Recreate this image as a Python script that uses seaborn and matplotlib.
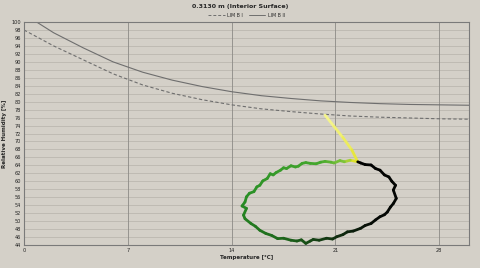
import numpy as np
import pandas as pd
import matplotlib
matplotlib.use("Agg")
import matplotlib.pyplot as plt
import seaborn as sns
from matplotlib.colors import LinearSegmentedColormap

# ---- data ----
iso_temp = [0, 2, 4, 6, 8, 10, 12, 14, 16, 18, 20, 22, 24, 26, 28, 30]
lim_b2 = [102.0, 97.3, 93.5, 90.0, 87.4, 85.4, 83.8, 82.5, 81.5, 80.8, 80.2, 79.8, 79.5, 79.3, 79.2, 79.1]
lim_b1 = [98.0, 94.0, 90.5, 87.0, 84.2, 82.1, 80.5, 79.2, 78.2, 77.5, 76.9, 76.4, 76.1, 75.9, 75.7, 75.6]
series_labels = ["LIM B I", "LIM B II"]

loop_temp = [20.3, 20.9, 21.5, 22.1, 22.5, 22.0, 21.6, 21.3, 20.9, 20.7, 20.3, 20.0, 19.7, 19.3,
             19.0, 18.75, 18.5, 18.3, 18.0, 17.7, 17.5, 17.3, 17.0, 16.8, 16.6, 16.4, 16.1, 15.9,
             15.7, 15.5, 15.2, 15.0, 14.9, 14.7, 15.0, 14.8, 14.9, 15.3, 15.6, 15.9, 16.3, 16.7,
             17.1, 17.5, 18.0, 18.4, 18.7, 19.0, 19.3, 19.5, 19.9, 20.4, 20.8, 21.1, 21.5, 21.8,
             22.2, 22.7, 23.0, 23.4, 23.7, 24.0, 24.3, 24.5, 24.7, 24.9, 25.1, 24.9, 25.05, 24.8,
             24.6, 24.3, 24.0, 23.7, 23.4, 23.0, 22.7, 22.5]
loop_rh = [76.6, 73.8, 71.0, 67.9, 64.9, 65.3, 64.9, 65.2, 64.6, 64.8, 65.0, 64.8, 64.4, 64.5,
           64.7, 64.5, 63.8, 63.6, 63.9, 63.2, 63.4, 62.8, 62.2, 61.6, 61.9, 60.7, 60.1, 59.0,
           58.6, 57.4, 57.0, 56.1, 54.8, 53.8, 53.2, 51.5, 50.6, 49.4, 48.7, 47.7, 46.9, 46.4,
           45.6, 45.7, 45.2, 45.0, 45.3, 44.4, 45.0, 45.4, 45.2, 45.7, 45.5, 46.1, 46.6, 47.3,
           47.5, 48.2, 48.9, 49.4, 50.3, 51.1, 51.6, 52.3, 53.5, 54.4, 55.7, 57.8, 59.0, 60.0,
           61.1, 61.6, 62.8, 63.2, 64.1, 64.2, 64.6, 64.9]

x_ticks = [0, 7, 14, 21, 28]
y_ticks = list(range(44, 101, 2))

# ---- style ----
bg = "#d4d0c8"
sns.set_theme(style="white")
plt.rcParams["font.family"] = ["DejaVu Sans"]

fig = plt.figure(figsize=(4.8, 2.68), dpi=100, facecolor=bg)
ax = fig.add_axes([0.05, 0.0858, 0.927, 0.832])
ax.set_facecolor(bg)

for y in y_ticks:
    ax.axhline(y, color="#bcb8b0", lw=0.6, zorder=0)
for x in x_ticks[1:]:
    ax.axvline(x, color="#8c8a86", lw=0.6, zorder=0)

iso = pd.DataFrame({
    "T": iso_temp * 2,
    "RH": lim_b1 + lim_b2,
    "curve": [series_labels[0]] * len(iso_temp) + [series_labels[1]] * len(iso_temp),
})
sns.lineplot(data=iso, x="T", y="RH", style="curve", style_order=series_labels,
             dashes={series_labels[0]: (3, 2), series_labels[1]: ""},
             color="#6e6e6e", lw=0.8, ax=ax, legend=True)

cmap = LinearSegmentedColormap.from_list(
    "loop", [(0.0, "#f4f48a"), (0.05, "#e2e22a"), (0.07, "#86c83c"), (0.14, "#46a82e"),
             (0.4, "#2a9026"), (0.55, "#1e6a1c"), (0.66, "#143c14"), (0.78, "#060a06"),
             (1.0, "#000000")])
n = len(loop_temp)
for i in range(n - 1):
    ax.plot(loop_temp[i:i + 2], loop_rh[i:i + 2], color=cmap(i / (n - 2)), lw=2.0,
            solid_capstyle="round", zorder=3)

ax.set_xlim(0, 30)
ax.set_ylim(44, 100)
ax.set_xticks(x_ticks)
ax.set_yticks(y_ticks)
ax.tick_params(axis="both", length=0, labelsize=3.6, pad=2, colors="#222222")
ax.set_xlabel("Temperature [°C]", fontsize=4, fontweight="bold", labelpad=1.5)
ax.set_ylabel("Relative Humidity [%]", fontsize=4, fontweight="bold", labelpad=3)
for s in ax.spines.values():
    s.set_color("#7a7a7a")
    s.set_linewidth(0.8)

fig.suptitle("0.3130 m (Interior Surface)", fontsize=4.5, fontweight="bold", y=0.985)
leg = ax.legend(loc="lower center", bbox_to_anchor=(0.5, 1.005), ncol=2, fontsize=3.4,
                frameon=False, handlelength=3.5, columnspacing=1.2, borderpad=0.1,
                handletextpad=0.5)
for h in leg.legend_handles:
    h.set_color("#6e6e6e")
    h.set_linewidth(0.7)

fig.savefig("out.png", dpi=100, facecolor=bg)
